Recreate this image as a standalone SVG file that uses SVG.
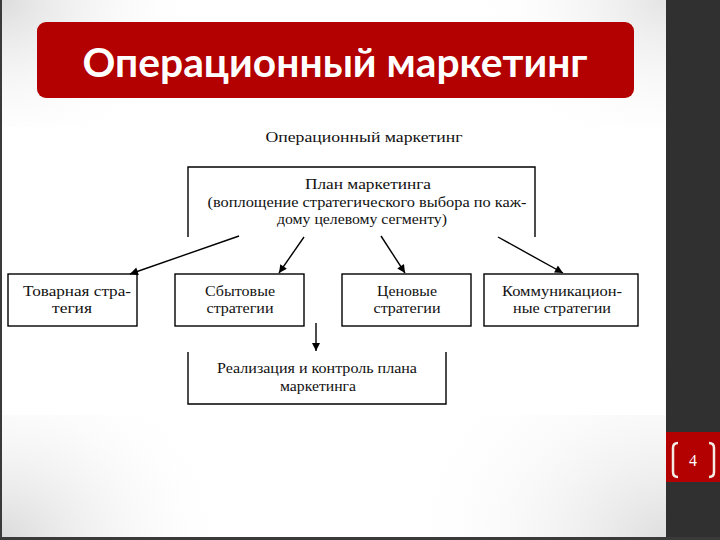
<svg xmlns="http://www.w3.org/2000/svg" width="720" height="540" viewBox="0 0 720 540">
<defs>
<radialGradient id="gTL" cx="0" cy="0" r="0.3"><stop offset="0" stop-color="#dcdcdc"/><stop offset="1" stop-color="#ffffff" stop-opacity="0"/></radialGradient>
<radialGradient id="gBL" cx="0" cy="1" r="0.35"><stop offset="0" stop-color="#dadada"/><stop offset="1" stop-color="#ffffff" stop-opacity="0"/></radialGradient>
<radialGradient id="gBR" cx="1" cy="1" r="0.4"><stop offset="0" stop-color="#dedede"/><stop offset="1" stop-color="#ffffff" stop-opacity="0"/></radialGradient>
<radialGradient id="gTR" cx="1" cy="0" r="0.3"><stop offset="0" stop-color="#e4e4e4"/><stop offset="1" stop-color="#ffffff" stop-opacity="0"/></radialGradient>
<marker id="ah" viewBox="0 0 10 10" refX="10" refY="5" markerWidth="9" markerHeight="8" markerUnits="userSpaceOnUse" orient="auto"><path d="M0,0 L10,5 L0,10 z" fill="#000"/></marker>
<style>
.t{font-family:"Liberation Serif","Times New Roman",serif;font-size:15px;fill:#111;text-anchor:middle}
.box{fill:#fff;stroke:#000;stroke-width:1.4}
.open{fill:none;stroke:#000;stroke-width:1.4}
.con{stroke:#000;stroke-width:1.4;fill:none;marker-end:url(#ah)}
</style>
</defs>
<rect width="720" height="540" fill="#ffffff"/>
<rect x="0" y="0" width="666" height="540" fill="url(#gBL)"/>
<rect x="0" y="0" width="666" height="540" fill="url(#gBR)"/>
<rect x="0" y="0" width="666" height="540" fill="url(#gTR)"/>
<rect x="0" y="0" width="666" height="540" fill="url(#gTL)"/>
<rect x="666" y="0" width="54" height="540" fill="#303030"/>
<rect x="0" y="0" width="2" height="540" fill="#3a3a3a"/>
<rect x="0" y="537" width="720" height="3" fill="#3a3a3a"/>
<rect x="3" y="127" width="662" height="288" fill="#ffffff"/>

<g id="title">
<rect x="37" y="22" width="597" height="76" rx="9" fill="#b30000"/>
<text x="335" y="77" font-family="Lato,'Open Sans','Noto Sans',sans-serif" font-weight="bold" font-size="40" fill="#ffffff" text-anchor="middle" textLength="505" lengthAdjust="spacingAndGlyphs">Операционный маркетинг</text>
</g>

<g id="page">
<rect x="666" y="432" width="54" height="50" fill="#b30000"/>
<path d="M678,443 Q673,443 673,448 L673,472 Q673,477 678,477" fill="none" stroke="#f4ece4" stroke-width="2.5"/>
<path d="M709,443 Q714,443 714,448 L714,472 Q714,477 709,477" fill="none" stroke="#f4ece4" stroke-width="2.5"/>
<text x="693" y="466" font-family="'Liberation Serif',serif" font-size="16" fill="#ffffff" text-anchor="middle">4</text>
</g>

<g id="heading"><text class="t" x="364" y="142" textLength="197" lengthAdjust="spacingAndGlyphs">Операционный маркетинг</text></g>

<g id="plan">
<path class="open" d="M188,237 L188,167 L535,167 L535,237"/>
<text class="t" x="368" y="189" textLength="126" lengthAdjust="spacingAndGlyphs">План маркетинга</text>
<text class="t" x="367" y="207" textLength="319" lengthAdjust="spacingAndGlyphs">(воплощение стратегического выбора по каж-</text>
<text class="t" x="362" y="224" textLength="170" lengthAdjust="spacingAndGlyphs">дому целевому сегменту)</text>
</g>

<g id="product">
<rect class="box" x="8" y="274" width="129" height="52"/>
<text class="t" x="77" y="296" textLength="108" lengthAdjust="spacingAndGlyphs">Товарная стра-</text>
<text class="t" x="72" y="313" textLength="40" lengthAdjust="spacingAndGlyphs">тегия</text>
</g>
<g id="sales">
<rect class="box" x="175" y="274" width="129" height="52"/>
<text class="t" x="240" y="296" textLength="70" lengthAdjust="spacingAndGlyphs">Сбытовые</text>
<text class="t" x="240" y="313" textLength="67" lengthAdjust="spacingAndGlyphs">стратегии</text>
</g>
<g id="price">
<rect class="box" x="342" y="274" width="129" height="52"/>
<text class="t" x="407" y="296" textLength="60" lengthAdjust="spacingAndGlyphs">Ценовые</text>
<text class="t" x="407" y="313" textLength="67" lengthAdjust="spacingAndGlyphs">стратегии</text>
</g>
<g id="comm">
<rect class="box" x="484" y="274" width="154" height="52"/>
<text class="t" x="562" y="296" textLength="120" lengthAdjust="spacingAndGlyphs">Коммуникацион-</text>
<text class="t" x="562" y="313" textLength="98" lengthAdjust="spacingAndGlyphs">ные стратегии</text>
</g>
<g id="impl">
<path class="open" d="M188,352 L188,404 L446,404 L446,352"/>
<text class="t" x="317" y="373" textLength="200" lengthAdjust="spacingAndGlyphs">Реализация и контроль плана</text>
<text class="t" x="318" y="391" textLength="76" lengthAdjust="spacingAndGlyphs">маркетинга</text>
</g>

<g id="connectors">
<line class="con" x1="239" y1="236" x2="130" y2="274"/>
<line class="con" x1="304" y1="237" x2="279" y2="273"/>
<line class="con" x1="381" y1="236" x2="405" y2="273"/>
<line class="con" x1="498" y1="237" x2="563" y2="273"/>
<line class="con" x1="316" y1="323" x2="316" y2="351"/>
</g>
</svg>
